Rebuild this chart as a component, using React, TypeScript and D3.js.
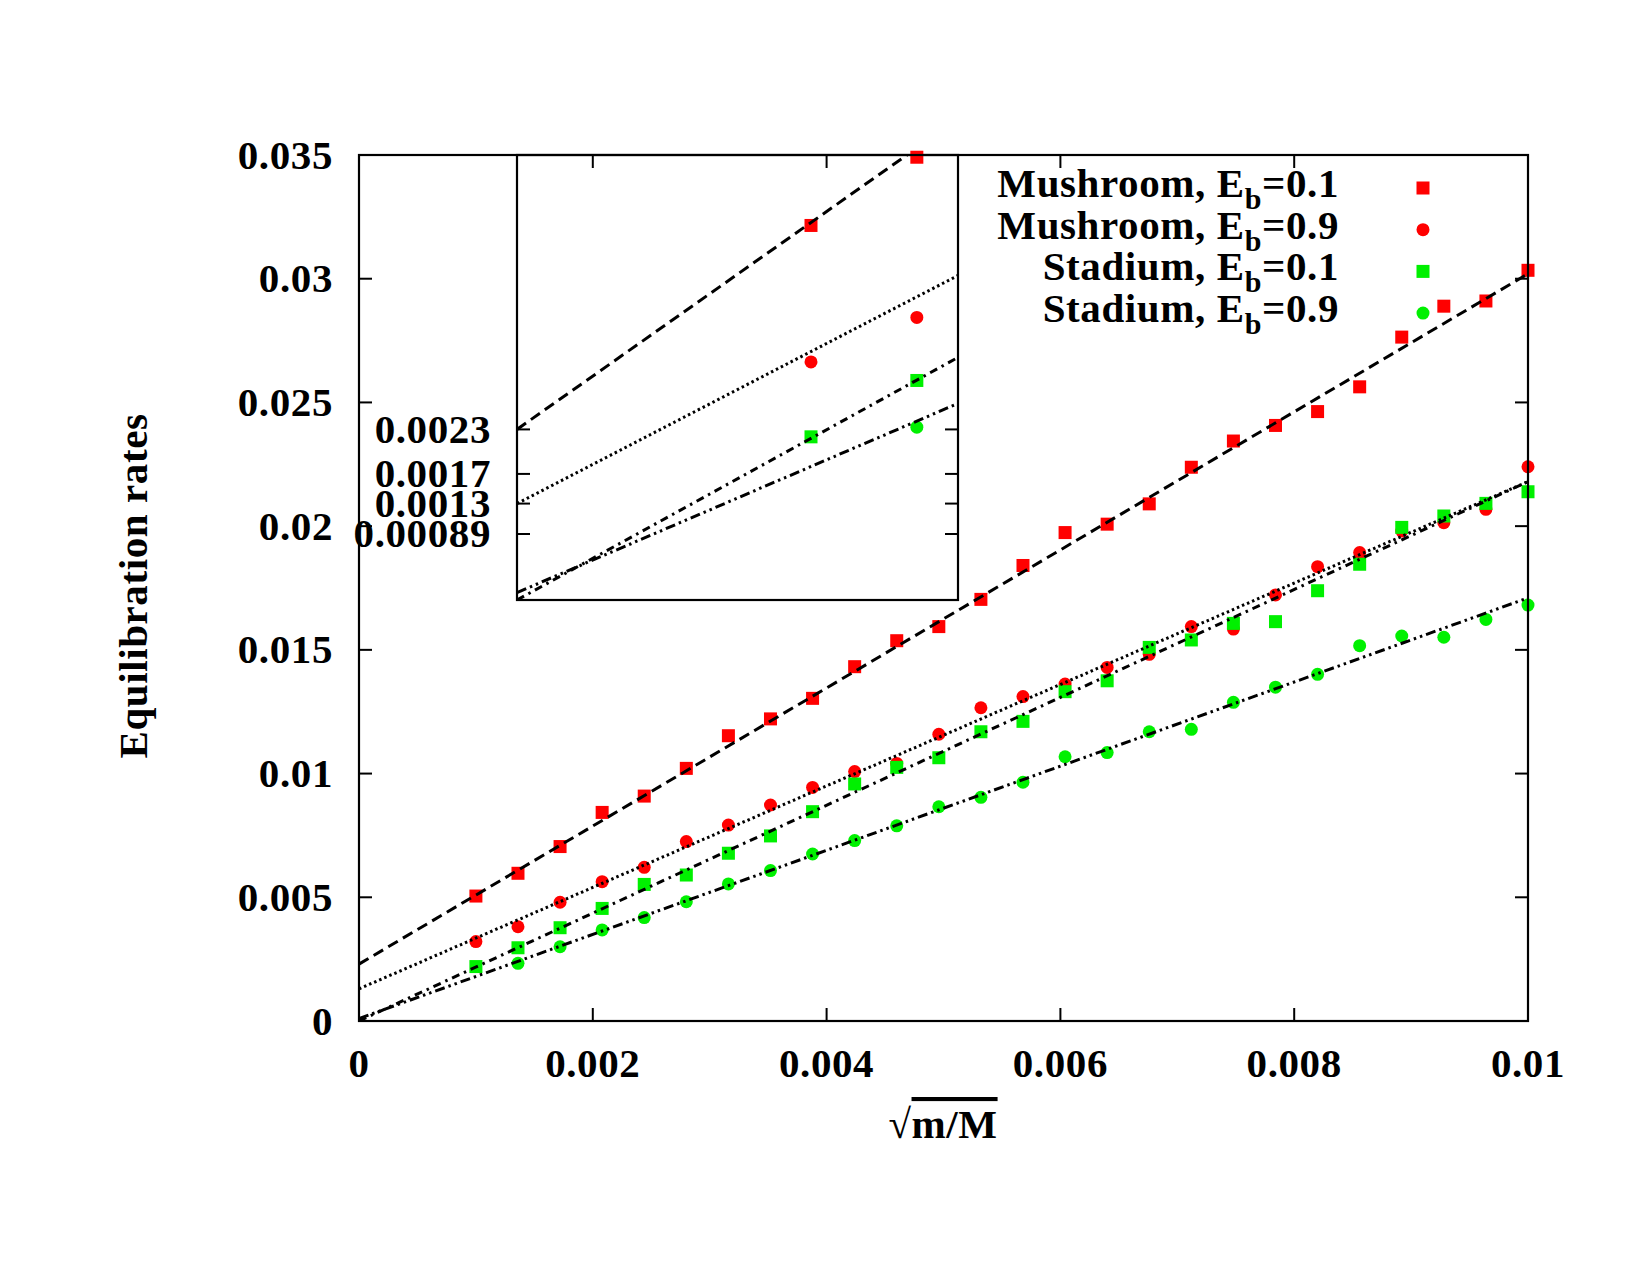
import React from 'react';
import * as d3 from 'd3';

// sqrt(m/M) values shared by all four runs
const X_VALUES = [
  0.001, 0.00136, 0.00172, 0.00208, 0.00244, 0.0028, 0.00316, 0.00352, 0.00388,
  0.00424, 0.0046, 0.00496, 0.00532, 0.00568, 0.00604, 0.0064, 0.00676, 0.00712,
  0.00748, 0.00784, 0.0082, 0.00856, 0.00892, 0.00928, 0.00964, 0.01,
];

const MUSHROOM_01 = [
  0.00505, 0.00597, 0.00705, 0.00843, 0.00909, 0.01021, 0.01153, 0.01221, 0.01304,
  0.01432, 0.01537, 0.01594, 0.01704, 0.01841, 0.01974, 0.02008, 0.0209, 0.02238,
  0.02344, 0.02407, 0.02463, 0.02563, 0.02764, 0.02889, 0.0291, 0.03034,
];
const MUSHROOM_09 = [
  0.00321, 0.00381, 0.0048, 0.00563, 0.00621, 0.00725, 0.00792, 0.00873, 0.00944,
  0.01008, 0.01041, 0.01159, 0.01266, 0.01311, 0.01362, 0.01429, 0.01482, 0.01594,
  0.01584, 0.01722, 0.01836, 0.01893, 0.0198, 0.02014, 0.02068, 0.0224,
];
const STADIUM_01 = [
  0.0022, 0.00296, 0.00377, 0.00455, 0.00552, 0.0059, 0.00678, 0.00748, 0.00846,
  0.00958, 0.01025, 0.01064, 0.01169, 0.01211, 0.01331, 0.01375, 0.0151, 0.0154,
  0.01607, 0.01614, 0.01739, 0.01846, 0.01995, 0.02041, 0.02092, 0.02139,
];
const STADIUM_09: (number | null)[] = [
  null, 0.00233, 0.003, 0.00368, 0.00418, 0.00482, 0.00554, 0.00608, 0.00675,
  0.00729, 0.00789, 0.00866, 0.00904, 0.00965, 0.01068, 0.01085, 0.01169, 0.01179,
  0.01288, 0.01349, 0.01401, 0.01517, 0.01556, 0.01551, 0.01623, 0.01681,
];

// linear fits: value at x = 0 and at x = 0.01
const FIT_START = [0.0023, 0.0013, 0.0, 0.0001];
const FIT_END = [0.0302, 0.0218, 0.0218, 0.0171];

const X_TICKS = [0, 0.002, 0.004, 0.006, 0.008, 0.01];
const X_TICK_LABELS = ['0', '0.002', '0.004', '0.006', '0.008', '0.01'];
const Y_TICKS = [0, 0.005, 0.01, 0.015, 0.02, 0.025, 0.03, 0.035];
const Y_TICK_LABELS = ['0', '0.005', '0.01', '0.015', '0.02', '0.025', '0.03', '0.035'];
const INSET_Y_TICKS = [0.00089, 0.0013, 0.0017, 0.0023];
const INSET_Y_TICK_LABELS = ['0.00089', '0.0013', '0.0017', '0.0023'];

const SERIES_NAMES = ['Mushroom', 'Mushroom', 'Stadium', 'Stadium'];
const SERIES_EB = ['0.1', '0.9', '0.1', '0.9'];

const W = 1650;
const H = 1275;
const M = { left: 359, right: 1528, top: 155, bottom: 1021 };
const INSET = { left: 517, right: 958, top: 155, bottom: 600 };

const FONT = '"Liberation Serif", "Times New Roman", serif';
const RED = '#ff0000';
const GREEN = '#00f000';
const TICK = 13;
const SQ = 13;
const R = 6.5;

const STYLES = [
  { color: RED, shape: 'square', dash: '11,6' },
  { color: RED, shape: 'circle', dash: '2.5,3' },
  { color: GREEN, shape: 'square', dash: '8,5,2.5,5' },
  { color: GREEN, shape: 'circle', dash: '10,4,2.5,4,2.5,4' },
];

const SERIES = [MUSHROOM_01, MUSHROOM_09, STADIUM_01, STADIUM_09];

function Marker({ cx, cy, shape, color }: { cx: number; cy: number; shape: string; color: string }) {
  if (shape === 'square')
    return <rect x={cx - SQ / 2} y={cy - SQ / 2} width={SQ} height={SQ} fill={color} />;
  return <circle cx={cx} cy={cy} r={R} fill={color} />;
}

export default function App() {
  const x = d3.scaleLinear().domain([0, 0.01]).range([M.left, M.right]);
  const y = d3.scaleLinear().domain([0, 0.035]).range([M.bottom, M.top]);
  const xi = d3.scaleLinear().domain([0, 0.0015]).range([INSET.left, INSET.right]);
  const yi = d3.scaleLinear().domain([0, 0.006]).range([INSET.bottom, INSET.top]);

  const points = SERIES.map((vals) =>
    X_VALUES.map((xv, i) => ({ x: xv, y: vals[i] })).filter((p) => p.y != null) as { x: number; y: number }[]
  );
  const fits = FIT_START.map((s, i) => [
    [0, s],
    [0.01, FIT_END[i]],
  ] as [number, number][]);

  const mainLine = d3.line<[number, number]>().x((d) => x(d[0])).y((d) => y(d[1]));
  const insetLine = d3.line<[number, number]>().x((d) => xi(d[0])).y((d) => yi(d[1]));

  const txt = { fontFamily: FONT, fontWeight: 700, fontSize: 41, letterSpacing: 0.6, fill: '#000' } as const;

  return (
    <div style={{ position: 'absolute', left: 0, top: 0 }}>
      <svg width={W} height={H} viewBox={`0 0 ${W} ${H}`} style={{ display: 'block', background: '#fff' }}>
        <defs>
          <clipPath id="main-clip">
            <rect x={M.left} y={M.top} width={M.right - M.left} height={M.bottom - M.top} />
          </clipPath>
          <clipPath id="inset-clip">
            <rect x={INSET.left} y={INSET.top} width={INSET.right - INSET.left} height={INSET.bottom - INSET.top} />
          </clipPath>
        </defs>

        {/* main frame ticks, mirrored on all sides */}
        {X_TICKS.map((t) => (
          <g key={'xt' + t}>
            <line x1={x(t)} x2={x(t)} y1={M.bottom} y2={M.bottom - TICK} stroke="#000" strokeWidth={2} />
            <line x1={x(t)} x2={x(t)} y1={M.top} y2={M.top + TICK} stroke="#000" strokeWidth={2} />
          </g>
        ))}
        {Y_TICKS.map((t) => (
          <g key={'yt' + t}>
            <line x1={M.left} x2={M.left + TICK} y1={y(t)} y2={y(t)} stroke="#000" strokeWidth={2} />
            <line x1={M.right} x2={M.right - TICK} y1={y(t)} y2={y(t)} stroke="#000" strokeWidth={2} />
          </g>
        ))}
        {X_TICKS.map((t, i) => (
          <text key={'xl' + t} x={x(t)} y={1077} textAnchor="middle" {...txt}>
            {X_TICK_LABELS[i]}
          </text>
        ))}
        {Y_TICKS.map((t, i) => (
          <text key={'yl' + t} x={333} y={y(t) + 13.5} textAnchor="end" {...txt}>
            {Y_TICK_LABELS[i]}
          </text>
        ))}

        {/* data points */}
        {points.map((pts, si) =>
          pts.map((p, j) => (
            <Marker key={`p${si}-${j}`} cx={x(p.x)} cy={y(p.y)} shape={STYLES[si].shape} color={STYLES[si].color} />
          ))
        )}

        {/* fitted lines */}
        <g clipPath="url(#main-clip)">
          {fits.map((f, i) => (
            <path key={'f' + i} d={mainLine(f) ?? ''} fill="none" stroke="#000" strokeWidth={3} strokeDasharray={STYLES[i].dash} />
          ))}
        </g>

        <rect x={M.left} y={M.top} width={M.right - M.left} height={M.bottom - M.top} fill="none" stroke="#000" strokeWidth={2.2} />

        {/* inset: close-up near the origin */}
        {INSET_Y_TICKS.map((t, i) => (
          <g key={'it' + t}>
            <line x1={INSET.left} x2={INSET.left + TICK} y1={yi(t)} y2={yi(t)} stroke="#000" strokeWidth={2} />
            <line x1={INSET.right} x2={INSET.right - TICK} y1={yi(t)} y2={yi(t)} stroke="#000" strokeWidth={2} />
            <text x={491} y={yi(t) + 13.5} textAnchor="end" {...txt}>
              {INSET_Y_TICK_LABELS[i]}
            </text>
          </g>
        ))}
        {points.map((pts, si) =>
          pts
            .filter((p) => p.x <= 0.0015 && p.y <= 0.006)
            .map((p, j) => (
              <Marker key={`ip${si}-${j}`} cx={xi(p.x)} cy={yi(p.y)} shape={STYLES[si].shape} color={STYLES[si].color} />
            ))
        )}
        <g clipPath="url(#inset-clip)">
          {fits.map((f, i) => (
            <path key={'if' + i} d={insetLine(f) ?? ''} fill="none" stroke="#000" strokeWidth={3} strokeDasharray={STYLES[i].dash} />
          ))}
        </g>
        <rect
          x={INSET.left}
          y={INSET.top}
          width={INSET.right - INSET.left}
          height={INSET.bottom - INSET.top}
          fill="none"
          stroke="#000"
          strokeWidth={2.2}
        />

        {/* legend */}
        {SERIES_NAMES.map((name, i) => {
          const base = 197 + i * 41.7;
          return (
            <g key={'lg' + i}>
              <text x={1339} y={base} textAnchor="end" {...txt}>
                {name}, E
                <tspan fontSize={30} dy={12}>b</tspan>
                <tspan dy={-12}>={SERIES_EB[i]}</tspan>
              </text>
              <Marker cx={1423} cy={base - 9} shape={STYLES[i].shape} color={STYLES[i].color} />
            </g>
          );
        })}

        {/* axis titles */}
        <text transform="translate(147,586) rotate(-90)" textAnchor="middle" {...txt}>
          Equilibration rates
        </text>
        <text x={943} y={1138} textAnchor="middle" {...txt}>
          √<tspan textDecoration="overline">m/M</tspan>
        </text>
      </svg>
    </div>
  );
}
